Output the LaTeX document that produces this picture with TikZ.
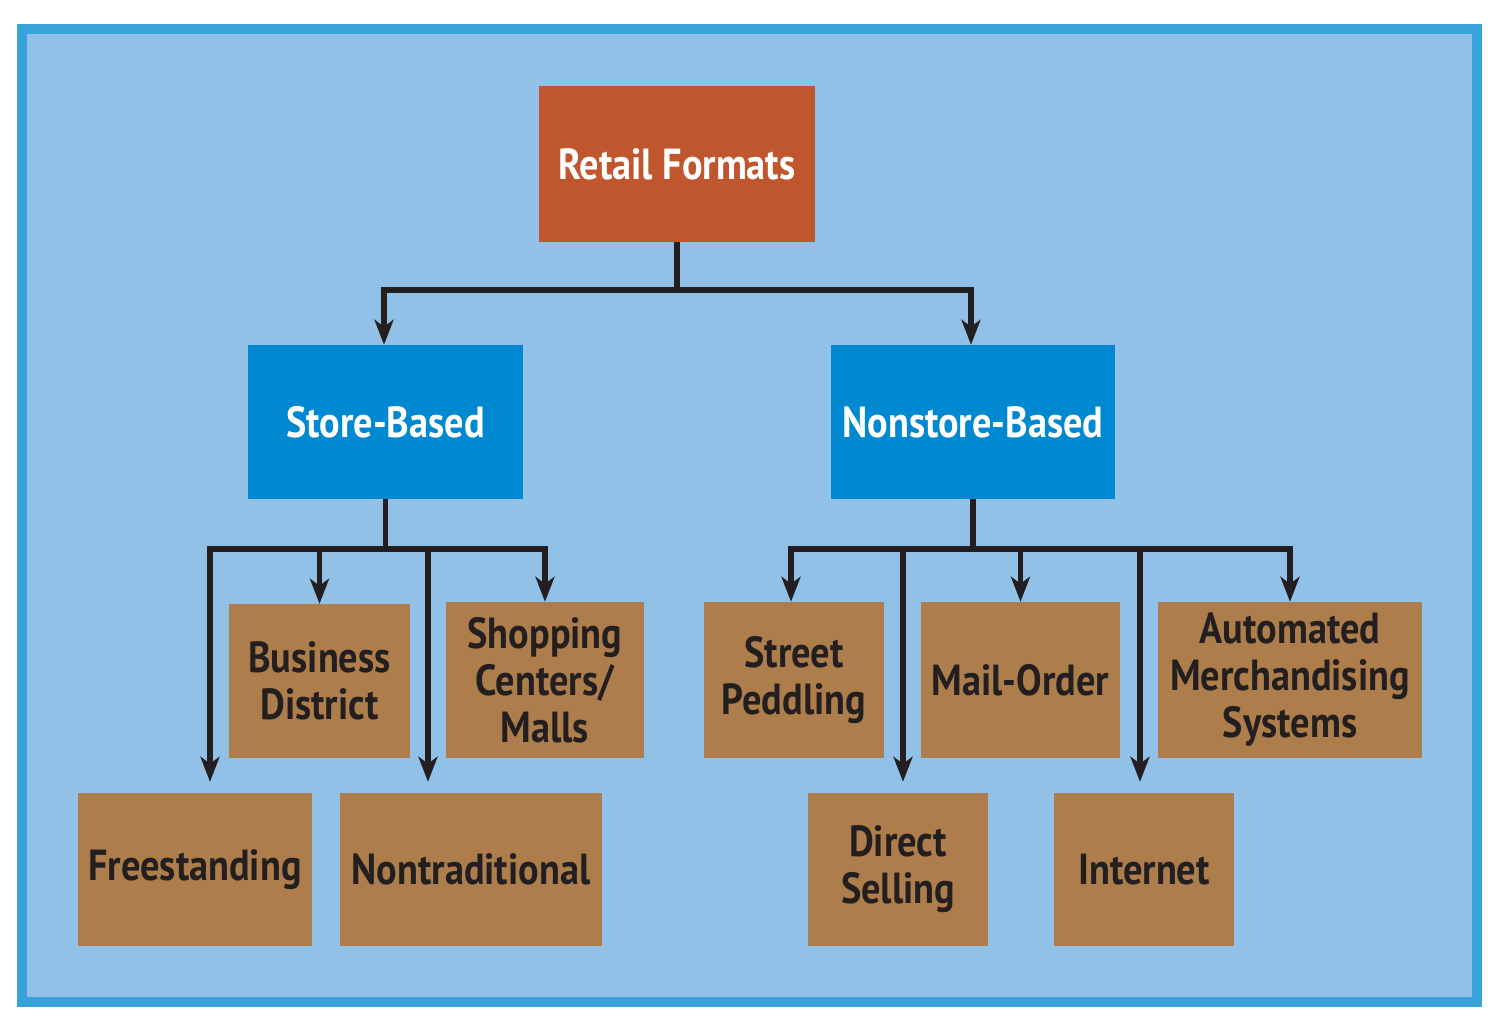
\documentclass[tikz,border=0pt]{standalone}
\usepackage{fontspec}
\setmainfont{PT Sans}[FakeStretch=0.88]
\usetikzlibrary{arrows.meta}
\definecolor{bgblue}{HTML}{92C1E8}
\definecolor{frameblue}{HTML}{38A2DB}
\definecolor{rootred}{HTML}{C0562D}
\definecolor{midblue}{HTML}{0088D1}
\definecolor{leafbrown}{HTML}{AD7D4B}
\definecolor{ink}{HTML}{231F20}
\tikzset{
  box/.style={rectangle, inner sep=0pt, align=center, font=\fontsize{43.5}{47}\selectfont\bfseries},
  root/.style={box, fill=rootred, text=white, minimum width=276pt, minimum height=156pt},
  mid/.style={box, fill=midblue, text=white, minimum width=275pt, minimum height=154pt},
  leaf/.style={box, fill=leafbrown, text=ink, minimum height=156pt},
  arr/.style={draw=ink, line width=5.5pt, -{Stealth[length=25pt, width=19pt, inset=7pt]}}
}
\begin{document}
\begin{tikzpicture}[x=1pt, y=-1pt]
    \fill[white] (0, 0) rectangle (1494, 1024);
    \draw[line width=10pt, draw=frameblue, fill=bgblue] (22, 29.5) rectangle (1477, 1002);

    \node[root] (rf) at (677, 164) {Retail Formats};
    \node[mid] (sb) at (385.5, 422) {Store-Based};
    \node[mid, minimum width=284pt] (nsb) at (973, 422) {Nonstore-Based};

    \node[leaf, minimum width=181pt, minimum height=154pt] (bd) at (319.5, 681) {Business\\District};
    \node[leaf, minimum width=198pt] (sc) at (545, 680) {Shopping\\Centers/\\Malls};
    \node[leaf, minimum width=234pt, minimum height=153pt] (fs) at (195, 869.5) {Freestanding};
    \node[leaf, minimum width=262pt, minimum height=153pt] (nt) at (471, 869.5) {Nontraditional};

    \node[leaf, minimum width=180pt] (sp) at (794, 680) {Street\\Peddling};
    \node[leaf, minimum width=199pt] (mo) at (1020.5, 680) {Mail-Order};
    \node[leaf, minimum width=264pt] (am) at (1290, 680) {Automated\\Merchandising\\Systems};
    \node[leaf, minimum width=180pt, minimum height=153pt] (ds) at (898, 869.5) {Direct\\Selling};
    \node[leaf, minimum width=180pt, minimum height=153pt] (in) at (1144, 869.5) {Internet};

    \draw[arr] (rf.south) -- ++(0, 48) -| ([xshift=-1.5pt]sb.north);
    \draw[arr] (rf.south) -- ++(0, 48) -| ([xshift=-2pt]nsb.north);

    \draw[arr] (sb.south) -- ++(0, 50) -| ([xshift=15pt, yshift=11pt]fs.north);
    \draw[arr] (sb.south) -- ++(0, 50) -| (bd.north);
    \draw[arr] (sb.south) -- ++(0, 50) -| ([xshift=-43pt, yshift=11pt]nt.north);
    \draw[arr] (sb.south) -- ++(0, 50) -| (sc.north);

    \draw[arr] (nsb.south) -- ++(0, 50) -| ([xshift=-3pt]sp.north);
    \draw[arr] (nsb.south) -- ++(0, 50) -| ([xshift=5pt, yshift=11pt]ds.north);
    \draw[arr] (nsb.south) -- ++(0, 50) -| (mo.north);
    \draw[arr] (nsb.south) -- ++(0, 50) -| ([xshift=-4pt, yshift=11pt]in.north);
    \draw[arr] (nsb.south) -- ++(0, 50) -| (am.north);
\end{tikzpicture}
\end{document}
